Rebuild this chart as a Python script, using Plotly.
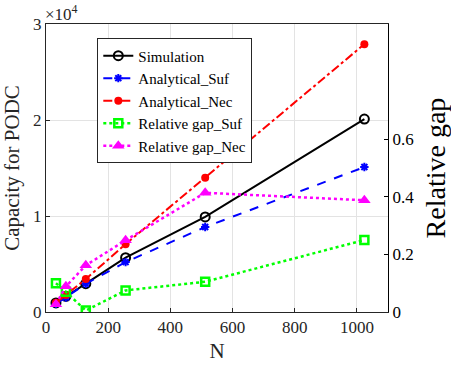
import plotly.graph_objects as go

# ---- data ----
N = [32, 64, 128, 256, 512, 1024]
simulation = [940, 1630, 2950, 5660, 9900, 20100]
analytical_suf = [846, 1516, 2935, 5200, 8850, 15100]
analytical_nec = [965, 1775, 3430, 7070, 13990, 27900]
gap_suf = [0.10, 0.07, 0.005, 0.075, 0.105, 0.25]
gap_nec = [0.027, 0.089, 0.162, 0.249, 0.414, 0.388]

x_ticks = [0, 200, 400, 600, 800, 1000]
y_ticks = [0, 10000, 20000, 30000]
y_ticktext = ["0", "1", "2", "3"]
y2_ticks = [0, 0.2, 0.4, 0.6]
y2_ticktext = ["0", "0.2", "0.4", "0.6"]

FONT = "Liberation Serif, Times New Roman, serif"
AX = "#262626"

fig = go.Figure()
fig.add_trace(go.Scatter(x=N, y=simulation, name="Simulation", mode="lines+markers",
                         line=dict(color="black", width=2, dash="solid"),
                         marker=dict(symbol="circle-open", size=9, color="black", line=dict(width=2))))
fig.add_trace(go.Scatter(x=N, y=analytical_suf, name="Analytical_Suf", mode="lines+markers",
                         line=dict(color="#0000ff", width=2, dash="dash"),
                         marker=dict(symbol="asterisk-open", size=7, color="#0000ff", line=dict(width=2, color="#0000ff"))))
fig.add_trace(go.Scatter(x=N, y=analytical_nec, name="Analytical_Nec", mode="lines+markers",
                         line=dict(color="#ff0000", width=2, dash="dashdot"),
                         marker=dict(symbol="circle", size=8, color="#ff0000")))
fig.add_trace(go.Scatter(x=N, y=gap_suf, name="Relative gap_Suf", mode="lines+markers", yaxis="y2",
                         line=dict(color="#00ff00", width=2.5, dash="dot"),
                         marker=dict(symbol="square-open", size=8, color="#00ff00", line=dict(width=2.5))))
fig.add_trace(go.Scatter(x=N, y=gap_nec, name="Relative gap_Nec", mode="lines+markers", yaxis="y2",
                         line=dict(color="#ff00ff", width=2.5, dash="dot"),
                         marker=dict(symbol="triangle-up", size=11, color="#ff00ff")))

tickfont = dict(family=FONT, size=17, color=AX)

fig.update_layout(
    width=451, height=366,
    margin=dict(l=46, r=63, t=24, b=54, autoexpand=False),
    paper_bgcolor="white", plot_bgcolor="white",
    font=dict(family=FONT, size=17, color=AX),
    showlegend=True,
    legend=dict(x=0.15, y=0.95, xanchor="left", yanchor="top",
                bgcolor="white", bordercolor=AX, borderwidth=1,
                font=dict(family=FONT, size=15, color="black"),
                tracegroupgap=0, itemwidth=30),
    xaxis=dict(range=[0, 1100], tickvals=x_ticks, ticks="inside", ticklen=4, tickcolor=AX,
               tickfont=tickfont, automargin=False,
               showline=True, linecolor=AX, linewidth=1, mirror=True,
               showgrid=True, gridcolor="#e3e3e3", gridwidth=1, zeroline=False,
               title=dict(text="N", font=dict(size=21, family=FONT, color=AX), standoff=6)),
    yaxis=dict(range=[0, 30000], tickvals=y_ticks, ticktext=y_ticktext, ticks="inside", ticklen=4,
               tickfont=tickfont, automargin=False,
               tickcolor=AX, showline=True, linecolor=AX, linewidth=1,
               showgrid=True, gridcolor="#e3e3e3", gridwidth=1, zeroline=False,
               title=dict(text="Capacity for PODC", font=dict(size=21, family=FONT, color=AX), standoff=8)),
    yaxis2=dict(range=[0, 1], tickvals=y2_ticks, ticktext=y2_ticktext, overlaying="y", side="right",
                tickfont=dict(family=FONT, size=17, color="black"), automargin=False,
                ticks="inside", ticklen=4, tickcolor="black", showline=True, linecolor="black", linewidth=1,
                showgrid=False, zeroline=False,
                title=dict(text="Relative gap", font=dict(size=28, family=FONT, color="black"), standoff=12)),
    annotations=[dict(text="×10<sup>4</sup>", xref="paper", yref="paper", x=0, y=1,
                      xanchor="left", yanchor="bottom", showarrow=False, xshift=-3, yshift=-2,
                      font=dict(family=FONT, size=17, color=AX))],
)

fig.write_html("out.html", config={"displayModeBar": False},
               post_script="document.body.style.margin='0';")
